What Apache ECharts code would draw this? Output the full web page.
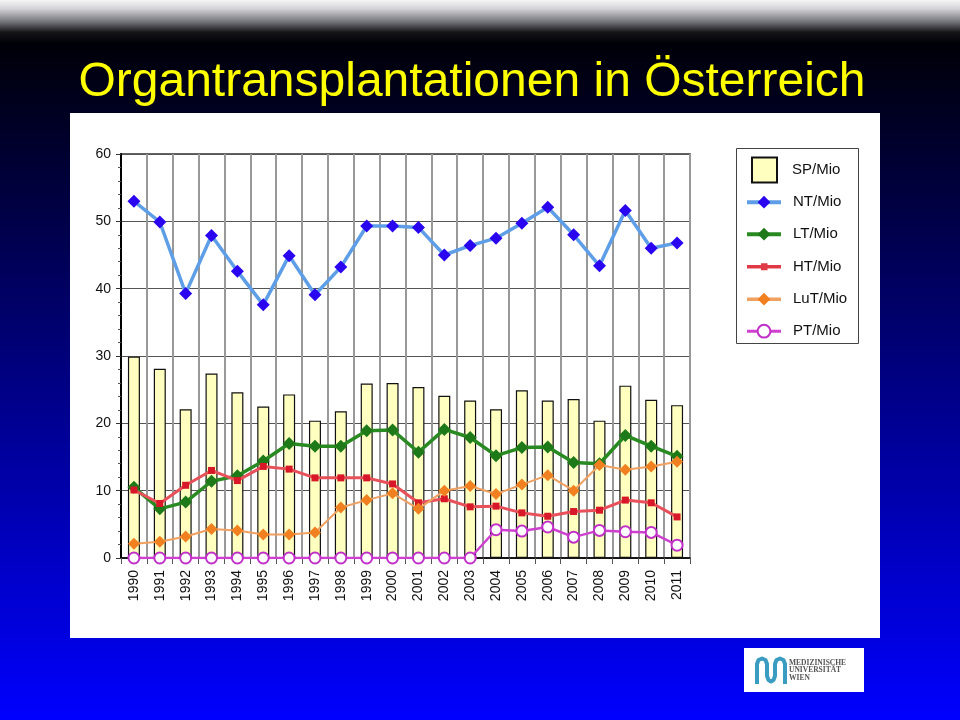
<!DOCTYPE html>
<html>
<head>
<meta charset="utf-8">
<script src="https://cdn.jsdelivr.net/npm/echarts@6/dist/echarts.min.js"></script>
<style>
html,body{margin:0;padding:0;background:#000;}
#c{width:960px;height:720px;}
</style>
</head>
<body>
<div id="c"></div>
<script>
const years = ['1990','1991','1992','1993','1994','1995','1996','1997','1998','1999','2000','2001','2002','2003','2004','2005','2006','2007','2008','2009','2010','2011'];
const spMio  = [29.9,28.1,22.1,27.4,24.6,22.5,24.3,20.4,21.8,25.9,26.0,25.4,24.1,23.4,22.1,24.9,23.4,23.6,20.4,25.6,23.5,22.7];
const ntMio  = [53.0,49.9,39.3,47.9,42.6,37.6,44.9,39.1,43.2,49.3,49.3,49.1,45.0,46.4,47.5,49.7,52.1,48.0,43.4,51.6,46.0,46.8];
const ltMio  = [10.5,7.3,8.3,11.4,12.2,14.4,17.0,16.6,16.6,18.9,19.0,15.7,19.1,17.9,15.2,16.4,16.5,14.2,14.0,18.2,16.6,15.1];
const htMio  = [10.1,8.1,10.8,13.0,11.5,13.6,13.2,11.9,11.9,11.9,11.0,8.2,8.8,7.6,7.7,6.7,6.2,6.9,7.1,8.6,8.2,6.1];
const lutMio = [2.1,2.4,3.2,4.3,4.1,3.5,3.5,3.8,7.5,8.6,9.6,7.3,10.0,10.7,9.5,10.9,12.3,10.0,13.8,13.1,13.6,14.3];
const ptMio  = [0,0,0,0,0,0,0,0,0,0,0,0,0,0,4.2,4.0,4.6,3.1,4.1,3.9,3.8,1.9];
const seriesNames = ['SP/Mio','NT/Mio','LT/Mio','HT/Mio','LuT/Mio','PT/Mio'];
const titleText = 'Organtransplantationen in Österreich';

const chart = echarts.init(document.getElementById('c'), null, {renderer:'canvas'});
const FONT = '"Liberation Sans", Arial, Helvetica, sans-serif';

const option = {
  animation: false,
  backgroundColor: new echarts.graphic.LinearGradient(0,0,0,1,[
    {offset:0, color:'#f6f6f6'},
    {offset:0.012, color:'#d4d4d8'},
    {offset:0.03, color:'#74747c'},
    {offset:0.045, color:'#141418'},
    {offset:0.06, color:'#000008'},
    {offset:1, color:'#0000ff'}
  ]),
  textStyle: {fontFamily: FONT},
  graphic: [
    {type:'rect', z:-10, silent:true, shape:{x:70,y:113,width:810,height:525}, style:{fill:'#ffffff'}},
    {type:'text', z:10, silent:true, x:472, y:83,
      style:{text:titleText, font:'48px ' + FONT, fill:'#ffff00', align:'center', verticalAlign:'middle'}},
    {type:'rect', z:-5, silent:true, shape:{x:736.5,y:148.5,width:122,height:195}, style:{fill:'none', stroke:'#444', lineWidth:1}},
    {type:'rect', z:10, silent:true, shape:{x:744,y:648,width:120,height:44}, style:{fill:'#ffffff'}},
    {type:'polyline', z:11, silent:true,
      shape:{points:[[757,684],[757,664],[758.5,660],[762,658.5],[765.5,660],[767,664],[767,676],[768.5,680],[771,681.5],[773.5,680],[775,676],[775,664],[776.5,660],[780,658.5],[783.5,660],[785,664],[785,684]]},
      style:{fill:'none', stroke:'#3a9cc0', lineWidth:4, lineJoin:'round'}},
    {type:'text', z:11, silent:true, x:789, y:659,
      style:{text:'MEDIZINISCHE\nUNIVERSITÄT\nWIEN', font:'bold 7.5px "Liberation Serif", "DejaVu Serif", serif', fill:'#555', lineHeight:7.5}}
  ],
  grid: {left:121, right:270, top:154, bottom:162, show:true, borderColor:'#333', borderWidth:1.5, backgroundColor:'transparent'},
  legend: [
    {data:['SP/Mio'], orient:'vertical', left:751, top:156.5, padding:0, itemWidth:25, itemHeight:25,
      icon:'rect', selectedMode:false,
      textStyle:{fontSize:15, color:'#111', fontFamily:FONT, padding:[0,0,0,10]}},
    {data:[
        {name:'NT/Mio', lineStyle:{width:4}},
        {name:'LT/Mio', lineStyle:{width:4}},
        {name:'HT/Mio', icon:'path://M0,0M0,16M0,6.3L34,6.3L34,9.7L0,9.7ZM14,4.5L20.5,4.5L20.5,11.5L14,11.5Z', itemStyle:{color:'#e03a46'}},
        {name:'LuT/Mio', lineStyle:{width:3.5}},
        {name:'PT/Mio', lineStyle:{width:3}}
      ],
      orient:'vertical', left:745, top:194.7, padding:0,
      itemWidth:34, itemHeight:16, itemGap:17, selectedMode:false,
      textStyle:{fontSize:15, color:'#111', fontFamily:FONT, padding:[0,0,0,7]}}
  ],
  xAxis: {
    type:'category', data:years, boundaryGap:true,
    axisLine:{lineStyle:{color:'#000', width:1.5}},
    axisTick:{show:true, length:6, lineStyle:{color:'#555'}},
    axisLabel:{rotate:90, fontSize:14, color:'#111', margin:12, fontFamily:FONT, interval:0},
    splitLine:{show:true, lineStyle:{color:'#999', width:2}}
  },
  yAxis: {
    type:'value', min:0, max:60, interval:10,
    axisLine:{show:true, lineStyle:{color:'#000', width:2}},
    axisTick:{show:true, length:5, lineStyle:{color:'#333'}},
    minorTick:{show:true, splitNumber:5, length:3, lineStyle:{color:'#555'}},
    axisLabel:{fontSize:14, color:'#111', margin:10, fontFamily:FONT},
    splitLine:{lineStyle:{color:'#555', width:1.2}}
  },
  series: [
    {name:seriesNames[0], type:'bar', data:spMio, barWidth:12, z:1,
      itemStyle:{color:'#ffffbf', borderColor:'#111', borderWidth:1.2}},
    {name:seriesNames[1], type:'line', data:ntMio, symbol:'diamond', symbolSize:13, showAllSymbol:true, z:3,
      lineStyle:{color:'#5e9ee6', width:3.5}, itemStyle:{color:'#2a06f0', borderWidth:0}},
    {name:seriesNames[2], type:'line', data:ltMio, symbol:'diamond', symbolSize:13, showAllSymbol:true, z:4,
      lineStyle:{color:'#2a8a22', width:3.5}, itemStyle:{color:'#1e7a18', borderWidth:0}},
    {name:seriesNames[3], type:'line', data:htMio, symbol:'rect', symbolSize:7, showAllSymbol:true, z:5,
      lineStyle:{color:'#e8505a', width:3}, itemStyle:{color:'#d81828', borderWidth:0}},
    {name:seriesNames[4], type:'line', data:lutMio, symbol:'diamond', symbolSize:12, showAllSymbol:true, z:6,
      lineStyle:{color:'#f0a060', width:2}, itemStyle:{color:'#f08020', borderWidth:0}},
    {name:seriesNames[5], type:'line', data:ptMio, symbol:'emptyCircle', symbolSize:11, showAllSymbol:true, z:7,
      lineStyle:{color:'#d040d0', width:2.5}, itemStyle:{color:'#c030c8', borderWidth:1.5}}
  ]
};
chart.setOption(option);
</script>
</body>
</html>
